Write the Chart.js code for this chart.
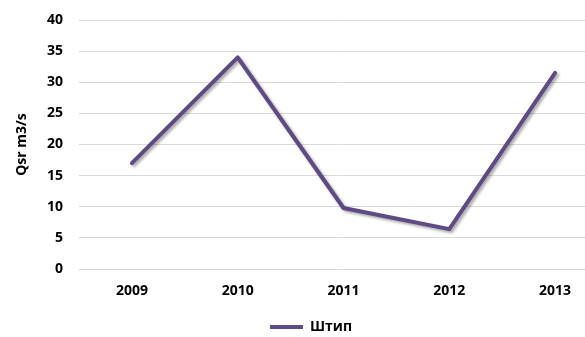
<!DOCTYPE html>
<html>
<head>
<meta charset="utf-8">
<script src="https://cdn.jsdelivr.net/npm/chart.js@4/dist/chart.umd.min.js"></script>
<style>
	html, body { margin: 0; padding: 0; background: #fff; overflow: hidden; }
	.wrap { width: 622px; height: 337px; position: relative; }
</style>
</head>
<body>
<div class="wrap"><canvas id="chart"></canvas></div>
<script>
'use strict';

// data
const years = ['2009', '2010', '2011', '2012', '2013'];
const shtip = [17, 34, 9.8, 6.4, 31.5];
const series_name = 'Штип';
const axis_title = 'Qsr m3/s';

const purple = '#5e4a84';
const font_main = { family: '"Open Sans", sans-serif', size: 14, weight: 'bold' };

// soft shadow under the line
const lineShadow = {
	id: 'lineShadow',
	beforeDatasetsDraw(chart) {
		const ctx = chart.ctx;
		ctx.save();
		ctx.shadowColor = 'rgba(0,0,0,0.35)';
		ctx.shadowOffsetX = 2;
		ctx.shadowOffsetY = 2;
		ctx.shadowBlur = 3;
	},
	afterDatasetsDraw(chart) {
		chart.ctx.restore();
	}
};

const data_chart = {
	labels: years,
	datasets: [
		{
			label: series_name,
			data: shtip,
			borderColor: purple,
			backgroundColor: purple,
			borderWidth: 4,
			pointRadius: 0,
			pointStyle: 'line',
			tension: 0,
			borderCapStyle: 'round',
			borderJoinStyle: 'round'
		}
	]
};

const ctx = document.querySelector('#chart').getContext('2d');

new Chart(ctx, {
	type: 'line',
	data: data_chart,
	plugins: [lineShadow],
	options: {
		responsive: true,
		maintainAspectRatio: false,
		animation: false,
		layout: {
			padding: { top: 20, right: 14, bottom: -7, left: 14 }
		},
		plugins: {
			legend: {
				position: 'bottom',
				labels: {
					color: '#000',
					font: font_main,
					usePointStyle: true,
					pointStyleWidth: 33,
					boxHeight: 4,
					padding: 5
				}
			},
			tooltip: { enabled: false }
		},
		scales: {
			x: {
				offset: true,
				grid: { display: false, drawTicks: false },
				border: { display: false },
				ticks: { color: '#000', font: font_main, padding: 14 },
				afterFit: (s) => { s.height = 46; }
			},
			y: {
				min: 0,
				max: 40,
				ticks: { stepSize: 5, color: '#000', font: font_main, padding: 16 },
				grid: { color: '#d9d9d9', lineWidth: 1, drawTicks: false },
				border: { display: false },
				title: {
					display: true,
					text: axis_title,
					color: '#000',
					font: font_main,
					padding: { top: 0, bottom: 0 }
				},
				afterFit: (s) => {
					s.width = 65;
					s.paddingTop = 0;
					s.paddingBottom = 0;
				}
			}
		}
	}
});
</script>
</body>
</html>
